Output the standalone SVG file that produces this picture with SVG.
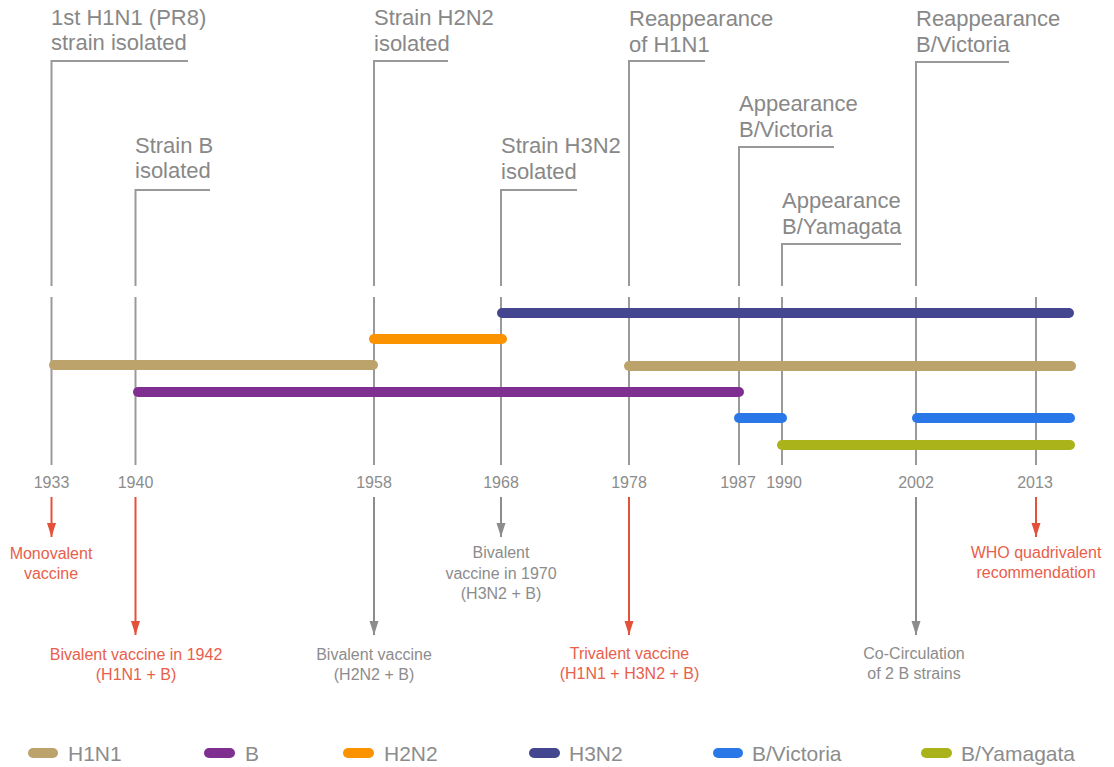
<svg xmlns="http://www.w3.org/2000/svg" width="1114" height="767" viewBox="0 0 1114 767">
<defs>
<style>
.big{font-family:"Liberation Sans",Arial,sans-serif;font-size:22px;fill:#888888}
.sm{font-family:"Liberation Sans",Arial,sans-serif;font-size:16px;fill:#8c8c8c;text-anchor:middle}
.red{fill:#e8604c}
.leg{font-family:"Liberation Sans",Arial,sans-serif;font-size:21px;fill:#8c8c8c}
.br{fill:none;stroke:#999999;stroke-width:2}
.yl{stroke:#9a9a9a;stroke-width:2}
.bar{stroke-width:10;stroke-linecap:round}
.ga{stroke:#8c8c8c;stroke-width:2;marker-end:url(#ag)}
.ra{stroke:#e4513b;stroke-width:2;marker-end:url(#ar)}
</style>
<marker id="ag" markerUnits="userSpaceOnUse" markerWidth="14" markerHeight="10" refX="14" refY="5" orient="auto" viewBox="0 0 14 10">
<path d="M0 0.5 L14 5 L0 9.5 Z" fill="#8c8c8c"/>
</marker>
<marker id="ar" markerUnits="userSpaceOnUse" markerWidth="14" markerHeight="10" refX="14" refY="5" orient="auto" viewBox="0 0 14 10">
<path d="M0 0.5 L14 5 L0 9.5 Z" fill="#e4513b"/>
</marker>
</defs>
<rect width="1114" height="767" fill="#ffffff"/>

<g id="connectors">
<polyline class="br" points="188,61 51.5,61 51.5,286"/>
<polyline class="br" points="210,190 135.5,190 135.5,286"/>
<polyline class="br" points="448,61 374,61 374,286"/>
<polyline class="br" points="577,190 501,190 501,286"/>
<polyline class="br" points="705,61 629,61 629,286"/>
<polyline class="br" points="834,147 739,147 739,286"/>
<polyline class="br" points="901,244 782,244 782,286"/>
<polyline class="br" points="1009,62 916,62 916,286"/>
<line class="yl" x1="51.5" y1="297" x2="51.5" y2="465"/>
<line class="yl" x1="135.5" y1="297" x2="135.5" y2="465"/>
<line class="yl" x1="374" y1="297" x2="374" y2="465"/>
<line class="yl" x1="501" y1="297" x2="501" y2="465"/>
<line class="yl" x1="629" y1="297" x2="629" y2="465"/>
<line class="yl" x1="739" y1="297" x2="739" y2="465"/>
<line class="yl" x1="782" y1="297" x2="782" y2="465"/>
<line class="yl" x1="916" y1="297" x2="916" y2="465"/>
<line class="yl" x1="1036" y1="297" x2="1036" y2="465"/>
<line class="ra" x1="51.5" y1="497" x2="51.5" y2="537"/>
<line class="ra" x1="135.5" y1="497" x2="135.5" y2="635"/>
<line class="ga" x1="374" y1="497" x2="374" y2="635"/>
<line class="ga" x1="501" y1="497" x2="501" y2="537"/>
<line class="ra" x1="629" y1="497" x2="629" y2="635"/>
<line class="ga" x1="916" y1="497" x2="916" y2="635"/>
<line class="ra" x1="1036" y1="497" x2="1036" y2="537"/>
</g>

<g id="bars">
<line class="bar" x1="502" y1="313" x2="1069" y2="313" stroke="#444790"/>
<line class="bar" x1="374" y1="339" x2="502" y2="339" stroke="#fb9300"/>
<line class="bar" x1="54" y1="365" x2="373" y2="365" stroke="#bca26b"/>
<line class="bar" x1="629" y1="366" x2="1071" y2="366" stroke="#bca26b"/>
<line class="bar" x1="138" y1="392" x2="739" y2="392" stroke="#7e2f90"/>
<line class="bar" x1="739" y1="418" x2="782" y2="418" stroke="#2a78e8"/>
<line class="bar" x1="917" y1="418" x2="1070" y2="418" stroke="#2a78e8"/>
<line class="bar" x1="782" y1="445" x2="1070" y2="445" stroke="#aab41a"/>
</g>

<g id="event-labels">
<g id="ev-1933"><text class="big" x="51" y="25">1st H1N1 (PR8)</text><text class="big" x="51" y="50">strain isolated</text></g>
<g id="ev-1940"><text class="big" x="135" y="153">Strain B</text><text class="big" x="135" y="178">isolated</text></g>
<g id="ev-1958"><text class="big" x="374" y="25">Strain H2N2</text><text class="big" x="374" y="51">isolated</text></g>
<g id="ev-1968"><text class="big" x="501" y="153">Strain H3N2</text><text class="big" x="501" y="179">isolated</text></g>
<g id="ev-1978"><text class="big" x="629" y="26">Reappearance</text><text class="big" x="629" y="52">of H1N1</text></g>
<g id="ev-1987"><text class="big" x="739" y="111">Appearance</text><text class="big" x="739" y="137">B/Victoria</text></g>
<g id="ev-1990"><text class="big" x="782" y="208">Appearance</text><text class="big" x="782" y="234">B/Yamagata</text></g>
<g id="ev-2002"><text class="big" x="916" y="26">Reappearance</text><text class="big" x="916" y="52">B/Victoria</text></g>
</g>

<g id="years">
<text class="sm" x="51.5" y="488">1933</text>
<text class="sm" x="135.5" y="488">1940</text>
<text class="sm" x="374" y="488">1958</text>
<text class="sm" x="501" y="488">1968</text>
<text class="sm" x="629" y="488">1978</text>
<text class="sm" x="738" y="488">1987</text>
<text class="sm" x="784" y="488">1990</text>
<text class="sm" x="916" y="488">2002</text>
<text class="sm" x="1035" y="488">2013</text>
</g>

<g id="vaccines">
<g id="vac-1933"><text class="sm red" x="51" y="559">Monovalent</text><text class="sm red" x="51" y="579">vaccine</text></g>
<g id="vac-1942"><text class="sm red" x="136" y="660">Bivalent vaccine in 1942</text><text class="sm red" x="136" y="680">(H1N1 + B)</text></g>
<g id="vac-1958"><text class="sm" x="374" y="660">Bivalent vaccine</text><text class="sm" x="374" y="680">(H2N2 + B)</text></g>
<g id="vac-1970"><text class="sm" x="501" y="558">Bivalent</text><text class="sm" x="501" y="579">vaccine in 1970</text><text class="sm" x="501" y="599">(H3N2 + B)</text></g>
<g id="vac-1978"><text class="sm red" x="629.5" y="659">Trivalent vaccine</text><text class="sm red" x="629.5" y="679">(H1N1 + H3N2 + B)</text></g>
<g id="vac-2002"><text class="sm" x="914" y="659">Co-Circulation</text><text class="sm" x="914" y="679">of 2 B strains</text></g>
<g id="vac-2013"><text class="sm red" x="1036" y="558">WHO quadrivalent</text><text class="sm red" x="1036" y="578">recommendation</text></g>
</g>

<g id="legend">
<g id="leg-h1n1"><line class="bar" x1="33" y1="753" x2="53" y2="753" stroke="#bca26b"/><text class="leg" x="68" y="761">H1N1</text></g>
<g id="leg-b"><line class="bar" x1="209" y1="753" x2="230" y2="753" stroke="#7e2f90"/><text class="leg" x="245" y="761">B</text></g>
<g id="leg-h2n2"><line class="bar" x1="348" y1="753" x2="369" y2="753" stroke="#fb9300"/><text class="leg" x="384" y="761">H2N2</text></g>
<g id="leg-h3n2"><line class="bar" x1="534" y1="753" x2="555" y2="753" stroke="#444790"/><text class="leg" x="569" y="761">H3N2</text></g>
<g id="leg-bvic"><line class="bar" x1="718" y1="753" x2="738" y2="753" stroke="#2a78e8"/><text class="leg" x="752" y="761">B/Victoria</text></g>
<g id="leg-byam"><line class="bar" x1="926" y1="753" x2="947" y2="753" stroke="#aab41a"/><text class="leg" x="961" y="761">B/Yamagata</text></g>
</g>
</svg>
